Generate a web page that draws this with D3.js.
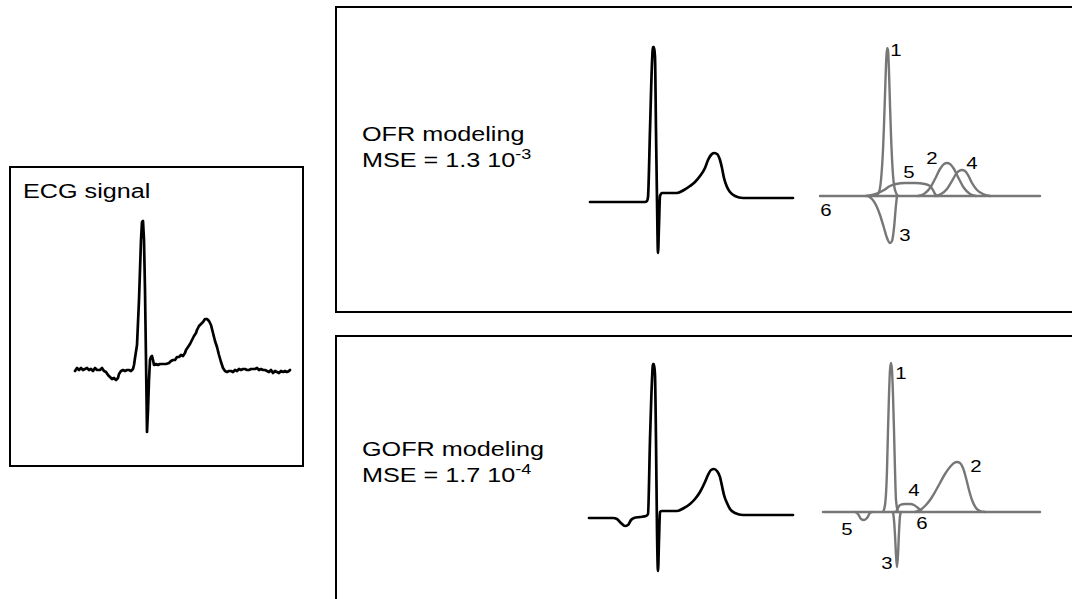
<!DOCTYPE html>
<html>
<head>
<meta charset="utf-8">
<script src="https://cdn.jsdelivr.net/npm/d3@7"></script>
<style>
  html, body { margin: 0; padding: 0; background: #fff; }
  svg { display: block; }
  .box { fill: none; stroke: #000; stroke-width: 2; }
  .ecg { fill: none; stroke: #000; stroke-width: 2.7; stroke-linejoin: round; stroke-linecap: round; }
  .comp { fill: none; stroke: #777; stroke-width: 2.4; stroke-linejoin: round; stroke-linecap: round; }
  .lbl { font-family: "Liberation Sans", Arial, sans-serif; fill: #000; }
</style>
</head>
<body>
<div id="chart"></div>
<script>
"use strict";

// samples (1 sample ~ 4 ms), amplitude in mV

var rawEcg = [
  [0,-0.01],[2,0.02],[4,0],[6,0.02],[8,0],[10,0.01],[12,0.02],[14,0],[16,0.01],[18,-0.01],
  [20,0.02],[22,0],[25,0],[27,0.02],[29,-0.01],[31,-0.02],[33,-0.05],[35,-0.07],[37,-0.09],
  [39,-0.08],[41,-0.1],[43,-0.08],[44,-0.04],[46,-0.01],[48,0],[50,-0.01],[52,0],[54,0],
  [56,-0.01],[58,0.01],[59,0.05],[60,0.12],[62,0.25],[64,0.7],[66,1.3],[67,1.48],[68,1.49],
  [69,1.3],[70,0.8],[71,0.1],[72,-0.62],[73,-0.4],[74,-0.1],[75,0.1],[76,0.13],[77,0.14],
  [78,0.1],[79,0.05],[81,0.06],[83,0.05],[85,0.06],[88,0.06],[91,0.06],[94,0.07],[96,0.09],
  [98,0.1],[100,0.1],[102,0.13],[104,0.13],[106,0.15],[108,0.14],[110,0.17],[111,0.2],
  [113,0.23],[115,0.26],[117,0.3],[119,0.34],[121,0.37],[122,0.4],[124,0.44],[126,0.46],
  [128,0.48],[130,0.51],[132,0.51],[134,0.49],[136,0.45],[138,0.37],[140,0.29],[142,0.23],
  [144,0.15],[146,0.08],[148,0.02],[150,-0.01],[152,-0.02],[154,-0.01],[156,-0.01],[158,-0.02],
  [160,0],[162,-0.01],[164,0.01],[166,0],[168,0.01],[170,0.01],[172,0],[174,0],[176,0.01],
  [178,0.01],[180,0.01],[182,0.02],[184,0],[186,0.01],[188,0],[190,0],[192,-0.01],[194,-0.02],
  [196,0],[198,-0.03],[200,-0.01],[202,-0.02],[204,-0.03],[206,-0.01],[208,-0.02],[210,-0.01],
  [212,-0.02],[214,-0.01],[215,0]
];

var ofrModel = [
  [0,-0.02],[30,-0.02],[55,-0.02],[57,-0.01],[58,0.03],[60,0.7],[62,1.37],[63,1.53],[64,1.53],
  [65,1.43],[66,0.7],[67,0],[68,-0.53],[69,-0.25],[70,0.04],[72,0.07],[80,0.07],[87,0.07],
  [94,0.1],[100,0.14],[105,0.18],[110,0.24],[115,0.32],[118,0.4],[121,0.45],[124,0.47],
  [127,0.46],[130,0.4],[132,0.32],[134,0.22],[137,0.13],[140,0.08],[145,0.04],[153,0.02],
  [170,0.02],[203,0.02]
];

var gofrModel = [
  [0,-0.02],[24,-0.02],[28,-0.03],[32,-0.07],[36,-0.1],[39,-0.09],[42,-0.04],[45,-0.02],
  [51,-0.01],[57,0],[59,0.02],[61,0.76],[63,1.36],[64,1.52],[65,1.52],[66,1.41],[67,0.76],
  [68,-0.14],[69,-0.55],[70,-0.24],[71,0.04],[73,0.05],[88,0.05],[95,0.08],[101,0.12],
  [106,0.17],[111,0.24],[116,0.34],[119,0.41],[122,0.46],[125,0.47],[128,0.45],[131,0.39],
  [133,0.3],[135,0.21],[138,0.13],[141,0.07],[146,0.03],[154,0.01],[171,0.01],[204,0.01]
];

// OFR components
var ofrComp1 = [[53,0],[56,0.04],[58,0.16],[60,0.46],[61,0.71],[62,1.01],[63,1.31],[64,1.48],[65,1.46],[66,1.24],[67,0.91],[68,0.61],[70,0.21],[72,0.06],[75,0]];
var ofrComp2 = [[95,0],[101,0.02],[107,0.08],[112,0.17],[117,0.27],[121,0.32],[124,0.33],[127,0.32],[131,0.27],[136,0.17],[141,0.08],[147,0.02],[153,0]];
var ofrComp3 = [[45,0],[49,-0.03],[53,-0.09],[57,-0.19],[61,-0.32],[64,-0.42],[67,-0.47],[69,-0.45],[71,-0.32],[73,-0.09],[74,0]];
var ofrComp4 = [[112,0],[118,0.02],[124,0.07],[129,0.15],[133,0.22],[136,0.25],[139,0.26],[142,0.25],[145,0.21],[149,0.13],[154,0.06],[160,0.02],[167,0]];
var ofrComp5 = [[43,0],[49,0.01],[55,0.03],[61,0.06],[67,0.1],[73,0.12],[82,0.13],[92,0.13],[102,0.12],[107,0.1],[110,0.06],[112,0.02],[114,0]];
var ofrComp6 = [[-3,0],[217,0]];
var ofrLabels = [
  ["1",73,1.46],["2",109,0.38],["3",82,-0.39],["4",149,0.33],["5",86,0.24],["6",3,-0.14]
];

// GOFR components
var gofrComp1 = [[57,0],[59,0.07],[61,0.42],[62,0.82],[63,1.17],[64,1.42],[65,1.49],[66,1.42],[67,1.17],[68,0.82],[69,0.42],[70,0.12],[72,0]];
var gofrComp2 = [[89,0],[94,0.02],[99,0.06],[104,0.12],[109,0.2],[114,0.29],[119,0.38],[124,0.45],[128,0.49],[131,0.5],[134,0.49],[137,0.44],[140,0.34],[143,0.22],[146,0.12],[150,0.04],[154,0.01],[159,0]];
var gofrComp3 = [[67,0],[68,-0.08],[69,-0.23],[70,-0.43],[71,-0.55],[72,-0.43],[73,-0.2],[74,-0.04],[75,0]];
var gofrComp4 = [[70,0],[72,0.04],[74,0.07],[79,0.08],[84,0.08],[88,0.07],[92,0.04],[96,0]];
var gofrComp5 = [[29,0],[32,-0.02],[35,-0.07],[38,-0.08],[41,-0.06],[44,-0.01],[46,0]];
var gofrComp6 = [[-3,0],[214,0]];
var gofrLabels = [
  ["1",75,1.39],["2",150,0.46],["3",61,-0.51],["4",88,0.22],["5",21,-0.17],["6",96,-0.11]
];

(function () {

  var W = 1072, H = 599;
  var stretch = 1.2; // the figure is stretched horizontally

  var svg = d3.select("#chart").append("svg")
    .attr("width", W)
    .attr("height", H);

  /** a small panel: sample x0 at pixel x0, 0 mV at pixel yb, 100 px per mV */
  function panel(x0, yb) {
    var x = d3.scaleLinear().domain([0, 220]).range([x0, x0 + 220]);
    var y = d3.scaleLinear().domain([0, 1.5]).range([yb, yb - 150]);
    return { x: x, y: y };
  }

  function drawLine(sc, data, cls, curve) {
    var line = d3.line()
      .x(function (d) { return sc.x(d[0]); })
      .y(function (d) { return sc.y(d[1]); })
      .curve(curve || d3.curveLinear);
    svg.append("path")
      .datum(data)
      .attr("class", cls)
      .attr("d", line);
  }

  function addText(x, y, size, anchor) {
    return svg.append("text")
      .attr("class", "lbl")
      .attr("transform", "translate(" + x + "," + y + ") scale(" + stretch + ",1)")
      .attr("font-size", size)
      .attr("text-anchor", anchor || "start");
  }

  function addTitle(x, y, line1, mant, expo) {
    addText(x, y, 21).text(line1);
    var t = addText(x, y + 26, 21).text("MSE = " + mant + " 10");
    t.append("tspan")
      .attr("font-size", 15)
      .attr("dy", -8)
      .text(expo);
  }

  function addLabels(sc, labels) {
    labels.forEach(function (l) {
      addText(sc.x(l[1]), sc.y(l[2]), 17, "middle")
        .attr("dominant-baseline", "central")
        .text(l[0]);
    });
  }

  // frames
  svg.append("rect").attr("class", "box").attr("x", 10).attr("y", 167).attr("width", 293).attr("height", 299);
  svg.append("rect").attr("class", "box").attr("x", 336).attr("y", 7).attr("width", 800).attr("height", 305);
  svg.append("rect").attr("class", "box").attr("x", 336).attr("y", 336).attr("width", 800).attr("height", 320);

  // raw signal
  addText(23, 198, 21).text("ECG signal");
  drawLine(panel(75, 370), rawEcg, "ecg");

  // OFR
  addTitle(362, 141, "OFR modeling", "1.3", "-3");
  drawLine(panel(590, 200), ofrModel, "ecg", d3.curveMonotoneX);
  var oc = panel(823, 196);
  [ofrComp6, ofrComp5, ofrComp3, ofrComp2, ofrComp4, ofrComp1].forEach(function (c) {
    drawLine(oc, c, "comp", d3.curveMonotoneX);
  });
  addLabels(oc, ofrLabels);

  // GOFR
  addTitle(362, 456, "GOFR modeling", "1.7", "-4");
  drawLine(panel(589, 516), gofrModel, "ecg", d3.curveMonotoneX);
  var gc = panel(826, 512);
  [gofrComp6, gofrComp5, gofrComp4, gofrComp2, gofrComp3, gofrComp1].forEach(function (c) {
    drawLine(gc, c, "comp", d3.curveMonotoneX);
  });
  addLabels(gc, gofrLabels);

})();
</script>
</body>
</html>
